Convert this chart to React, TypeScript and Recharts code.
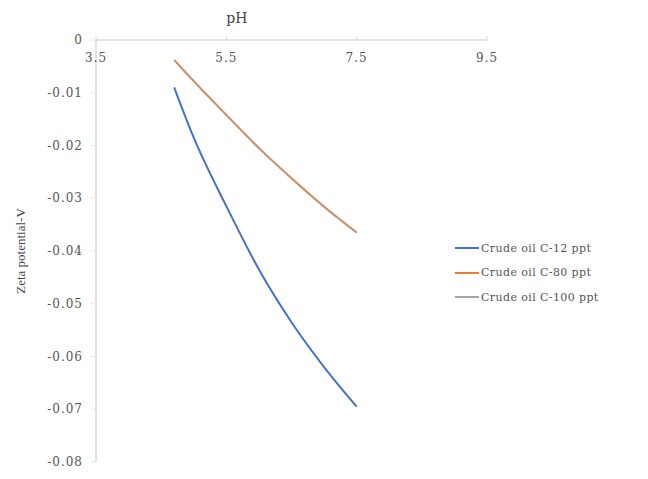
import {LineChart, Line, XAxis, YAxis, Legend} from 'recharts';

const phValues = [4.7, 5.0, 5.5, 6.0, 6.5, 7.0, 7.5];
const crude12 = [-0.009, -0.0185, -0.0315, -0.0435, -0.0535, -0.062, -0.0695];
const crude80 = [-0.0038, -0.0078, -0.0142, -0.0205, -0.0262, -0.0316, -0.0365];
const crude100 = [-0.0038, -0.0078, -0.0142, -0.0205, -0.0262, -0.0316, -0.0365];

const xTicks = [3.5, 5.5, 7.5, 9.5];
const yTicks = [0, -0.01, -0.02, -0.03, -0.04, -0.05, -0.06, -0.07, -0.08];

const seriesList = [
    {key: 'c12', name: 'Crude oil C-12 ppt', color: '#4472C4', values: crude12, opacity: 1},
    {key: 'c80', name: 'Crude oil C-80 ppt', color: '#ED7D31', values: crude80, opacity: 1},
    {key: 'c100', name: 'Crude oil C-100 ppt', color: '#A5A5A5', values: crude100, opacity: 0.55},
];

const rows = phValues.map((ph, i) => {
    const row: Record<string, number> = {ph};
    seriesList.forEach(s => {
        row[s.key] = s.values[i];
    });
    return row;
});

const serif = '"DejaVu Serif", "Liberation Serif", serif';

const XTick = (props: any) => {
    const {x, y, payload} = props;
    return (
        <text x={x} y={y + 28} textAnchor="middle" fontFamily={serif} fontSize={12}
              letterSpacing={1} fill="#555">
            {payload.value.toFixed(1)}
        </text>
    );
};

const YTick = (props: any) => {
    const {x, y, payload} = props;
    const v = payload.value;
    return (
        <text x={x} y={y + 4} textAnchor="end" fontFamily={serif} fontSize={12}
              letterSpacing={1} fill="#555">
            {v === 0 ? '0' : v.toFixed(2)}
        </text>
    );
};

// axis title sits left of centre, like the original
const PhTitle = (props: any) => {
    const {viewBox} = props;
    return (
        <text x={viewBox.x + viewBox.width * 0.36} y={viewBox.y + 13} textAnchor="middle"
              fontFamily={serif} fontSize={14} fill="#444">
            pH
        </text>
    );
};

const LegendBox = () => (
    <div style={{fontFamily: serif, fontSize: 11, color: '#555', letterSpacing: 0.4, whiteSpace: 'nowrap'}}>
        {seriesList.map(s => (
            <div key={s.key} style={{display: 'flex', alignItems: 'center', height: 24.5}}>
                <div style={{width: 24, minWidth: 24, flexShrink: 0, height: 2, background: s.color, marginRight: 2}}/>
                <span>{s.name}</span>
            </div>
        ))}
    </div>
);

export default function App() {
    return (
        <div style={{position: 'absolute', left: 0, top: 0, background: '#fff'}}>
            <LineChart width={648} height={479} data={rows}
                       margin={{top: 10, right: 161, bottom: 17, left: 0}}>
                <XAxis
                    type="number"
                    dataKey="ph"
                    orientation="top"
                    height={30}
                    domain={[3.5, 9.5]}
                    ticks={xTicks}
                    tick={<XTick/>}
                    tickSize={4}
                    tickMargin={2}
                    axisLine={{stroke: '#d9d9d9', strokeWidth: 1.5}}
                    tickLine={{stroke: '#d9d9d9'}}
                    label={<PhTitle/>}
                />
                <YAxis
                    type="number"
                    width={96}
                    domain={[-0.08, 0]}
                    ticks={yTicks}
                    tick={<YTick/>}
                    tickSize={5}
                    tickMargin={8}
                    axisLine={{stroke: '#d9d9d9', strokeWidth: 1.5}}
                    tickLine={{stroke: '#e3e3e3'}}
                    label={{
                        value: 'Zeta potential-V',
                        angle: -90,
                        position: 'insideLeft',
                        offset: 20,
                        style: {
                            fontFamily: '"Liberation Serif", serif',
                            fontSize: 13,
                            fill: '#444',
                            textAnchor: 'middle',
                        },
                    }}
                />
                <Legend
                    layout="vertical"
                    align="right"
                    verticalAlign="middle"
                    content={<LegendBox/>}
                    wrapperStyle={{
                        position: 'absolute',
                        left: 455,
                        top: 236,
                        width: 0,
                        height: 0,
                        overflow: 'visible',
                    }}
                />
                {seriesList.map(s => (
                    <Line
                        key={s.key}
                        type="monotone"
                        dataKey={s.key}
                        name={s.name}
                        stroke={s.color}
                        strokeOpacity={s.opacity}
                        strokeWidth={2}
                        dot={false}
                        isAnimationActive={false}
                    />
                ))}
            </LineChart>
        </div>
    );
}
